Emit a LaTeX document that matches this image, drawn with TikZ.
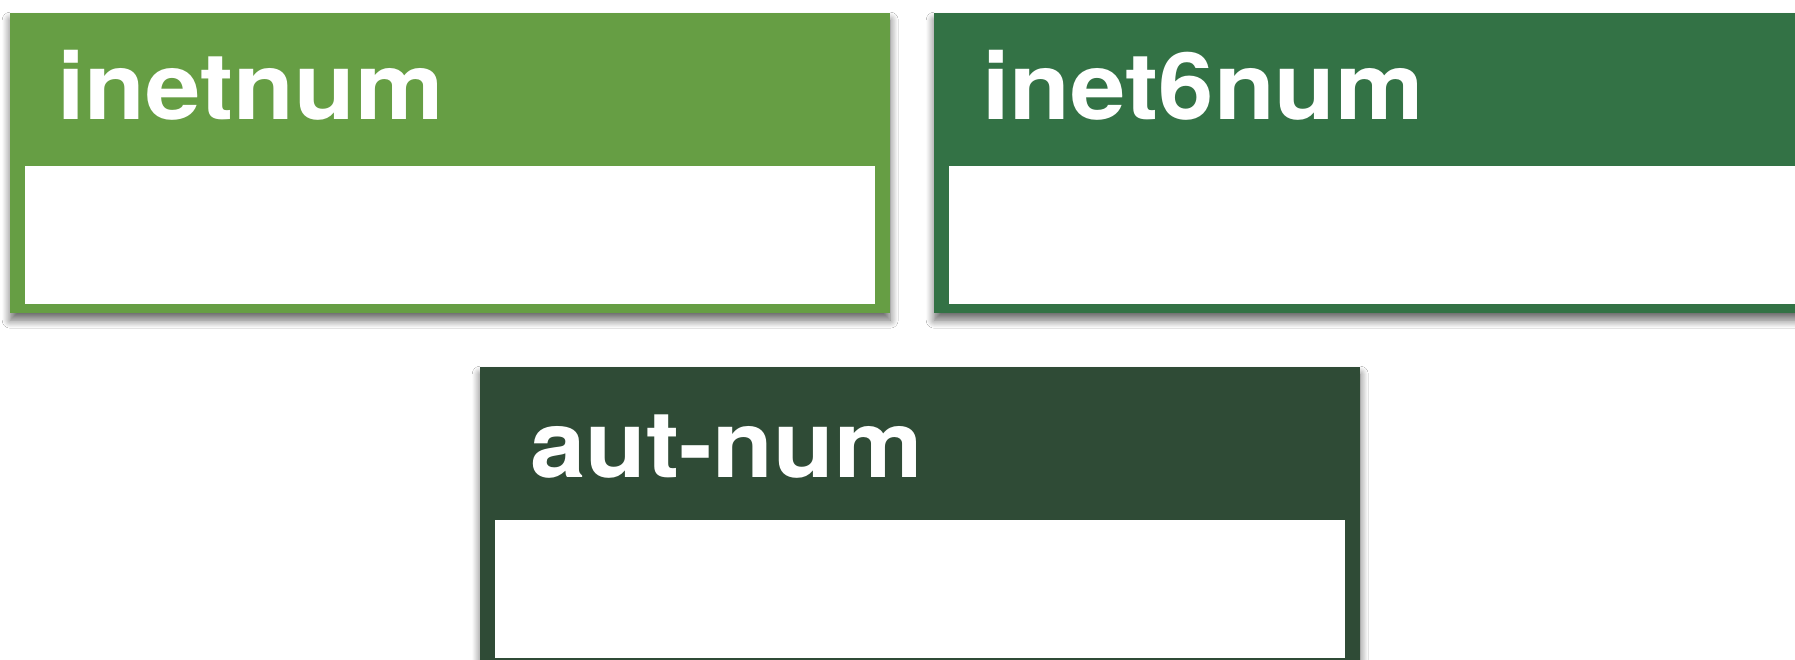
\documentclass[tikz,border=0pt]{standalone}
\usepackage{fontspec}
\setmainfont{TeX Gyre Heros}
\usetikzlibrary{shadows.blur}
\definecolor{gA}{RGB}{102,158,68}
\definecolor{gB}{RGB}{51,114,69}
\definecolor{gC}{RGB}{47,75,54}
\tikzset{
  card/.style={rectangle, inner sep=0pt, anchor=north west, minimum width=880pt, minimum height=300pt,
     blur shadow={shadow xshift=0pt, shadow yshift=-7pt, shadow blur radius=8pt, shadow blur steps=10, shadow opacity=60}},
  cardbody/.style={rectangle, fill=white, inner sep=0pt, anchor=north west, minimum width=850pt, minimum height=138pt},
  cardtitle/.style={text=white, font=\fontsize{93}{96}\selectfont\bfseries, inner sep=0pt, anchor=base west, xscale=1.07, transform shape}
}
\begin{document}
\begin{tikzpicture}[x=1pt,y=1pt]
\clip (0,0) rectangle (1795,660);
\fill[white] (0,0) rectangle (1795,660);
% inetnum
\node[card, fill=gA] (c1) at (10,647) {};
\node[cardbody] (b1) at (25,494) {};
\node[cardtitle] (t1) at (57,540) {inetnum};
% inet6num
\node[card, fill=gB] (c2) at (934,647) {};
\node[cardbody] (b2) at (949,494) {};
\node[cardtitle] (t2) at (982,540) {inet6num};
% aut-num
\node[card, fill=gC] (c3) at (480,293) {};
\node[cardbody] (b3) at (495,140) {};
\node[cardtitle] (t3) at (530,182) {aut-num};
\end{tikzpicture}
\end{document}
